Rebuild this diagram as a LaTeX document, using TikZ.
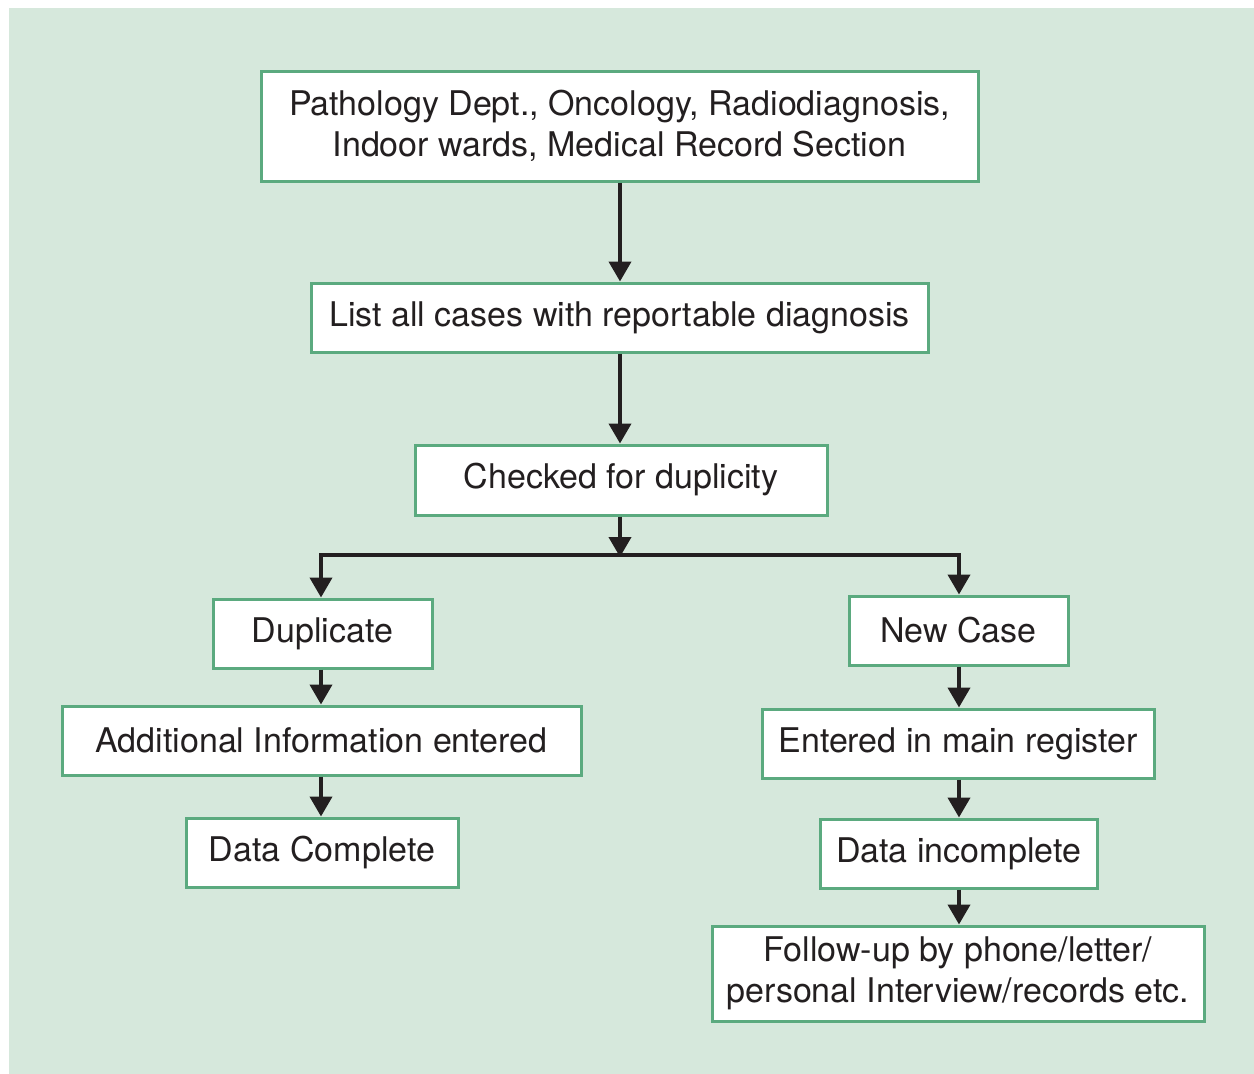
\documentclass[tikz,border=0pt]{standalone}
\usepackage{fontspec}
\setmainfont{TeX Gyre Heros}
\usetikzlibrary{arrows.meta}
\definecolor{bgc}{HTML}{D6E8DC}
\definecolor{bordc}{HTML}{5BAA7F}
\definecolor{linec}{HTML}{231F20}
\begin{document}
\begin{tikzpicture}[x=1pt,y=-1pt,
  box/.style={draw=bordc,line width=3pt,fill=white,inner sep=0pt,align=center,
    font=\fontsize{34}{41}\selectfont,text=linec},
  arr/.style={draw=linec,line width=4pt,-{Triangle[width=22pt,length=20pt]}},
  ln/.style={draw=linec,line width=4pt}]
\useasboundingbox (0,0) rectangle (1254,1074);
\fill[bgc] (9,8) rectangle (1254,1074);
\node[box,minimum width=717pt,minimum height=110pt] (b1) at (619.5,126) {Pathology Dept., Oncology, Radiodiagnosis,\\Indoor wards, Medical Record Section};
\node[box,minimum width=617pt,minimum height=69pt] (b2) at (619.5,317.5) {List all cases with reportable diagnosis};
\node[box,minimum width=412pt,minimum height=70pt] (b3) at (621,480) {Checked for duplicity};
\node[box,minimum width=219pt,minimum height=69pt] (dup) at (322.5,633.5) {Duplicate};
\node[box,minimum width=519pt,minimum height=69pt] (add) at (321.5,740.5) {Additional Information entered};
\node[box,minimum width=272pt,minimum height=69pt] (dc) at (322,852.5) {Data Complete};
\node[box,minimum width=219pt,minimum height=69pt] (nc) at (958.5,630.5) {New Case};
\node[box,minimum width=392pt,minimum height=69pt] (ent) at (958,743.5) {Entered in main register};
\node[box,minimum width=277pt,minimum height=69pt] (di) at (958.5,853.5) {Data incomplete};
\node[box,minimum width=492pt,minimum height=95pt] (fu) at (958,973.5) {Follow-up by phone/letter/\\personal Interview/records etc.};
\coordinate (mid) at (620,555);
\coordinate (split) at (620,557);
\coordinate (lft) at (321,555);
\coordinate (rgt) at (959,555);
\coordinate (lftc) at (319,555);
\coordinate (rgtc) at (961,555);
\draw[arr] (b1.south -| mid) -- (b2.north -| mid);
\draw[arr] (b2.south -| mid) -- (b3.north -| mid);
\draw[arr] (b3.south -| mid) -- (split);
\draw[ln] (lftc) -- (rgtc);
\draw[arr] ([yshift=-2pt]lft) -- (lft |- dup.north);
\draw[arr] ([yshift=-2pt]rgt) -- (rgt |- nc.north);
\draw[arr] (dup.south -| lft) -- (lft |- add.north);
\draw[arr] (add.south -| lft) -- (lft |- dc.north);
\draw[arr] (nc.south -| rgt) -- (rgt |- ent.north);
\draw[arr] (ent.south -| rgt) -- (rgt |- di.north);
\draw[arr] (di.south -| rgt) -- (rgt |- fu.north);
\end{tikzpicture}
\end{document}
